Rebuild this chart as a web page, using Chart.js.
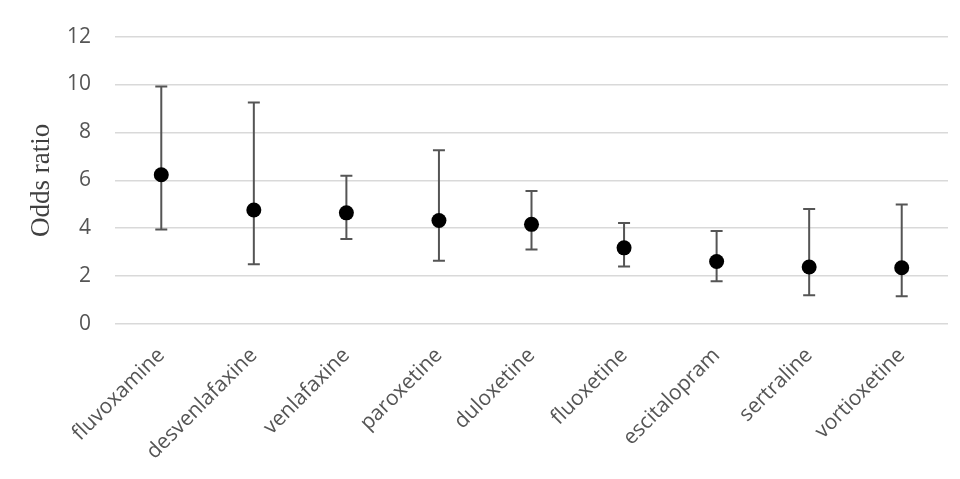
<!DOCTYPE html>
<html>
<head>
<meta charset="utf-8">
<script src="https://cdn.jsdelivr.net/npm/chart.js@4.4.1/dist/chart.umd.min.js"></script>
<style>
  html, body { margin: 0; padding: 0; background: #ffffff; }
  #wrap { width: 960px; height: 479px; }
</style>
</head>
<body>
<div id="wrap"><canvas id="c" width="960" height="479"></canvas></div>
<script>
const drugs = ['fluvoxamine', 'desvenlafaxine', 'venlafaxine', 'paroxetine', 'duloxetine', 'fluoxetine', 'escitalopram', 'sertraline', 'vortioxetine'];
const oddsRatio = [6.23, 4.76, 4.64, 4.32, 4.16, 3.18, 2.61, 2.38, 2.35];
const ciLower = [3.95, 2.50, 3.55, 2.64, 3.11, 2.40, 1.78, 1.20, 1.16];
const ciUpper = [9.92, 9.25, 6.19, 7.25, 5.55, 4.22, 3.88, 4.80, 4.99];
const yTicks = [0, 2, 4, 6, 8, 10, 12];

const errorBars = {
  id: 'errorBars',
  beforeDatasetsDraw(chart) {
    const ctx = chart.ctx;
    const meta = chart.getDatasetMeta(0);
    const y = chart.scales.y;
    ctx.save();
    ctx.strokeStyle = '#555555';
    ctx.lineWidth = 2;
    meta.data.forEach((pt, i) => {
      const x = pt.x;
      const yl = y.getPixelForValue(ciLower[i]);
      const yu = y.getPixelForValue(ciUpper[i]);
      ctx.beginPath();
      ctx.moveTo(x, yu); ctx.lineTo(x, yl);
      ctx.moveTo(x - 6, yu); ctx.lineTo(x + 6, yu);
      ctx.moveTo(x - 6, yl); ctx.lineTo(x + 6, yl);
      ctx.stroke();
    });
    ctx.restore();
  }
};

new Chart(document.getElementById('c'), {
  type: 'line',
  data: {
    labels: drugs,
    datasets: [{
      label: 'Odds ratio',
      data: oddsRatio,
      showLine: false,
      pointRadius: 7.5,
      pointHoverRadius: 7.5,
      pointBackgroundColor: '#000000',
      pointBorderColor: '#000000',
      pointBorderWidth: 0
    }]
  },
  options: {
    responsive: false,
    animation: false,
    devicePixelRatio: 1,
    layout: { padding: { left: 10, right: 12, top: 34, bottom: 0 } },
    plugins: { legend: { display: false }, tooltip: { enabled: false } },
    scales: {
      x: {
        offset: true,
        grid: { display: false, drawTicks: false },
        border: { display: false },
        ticks: {
          color: '#555555',
          font: { family: 'Open Sans', size: 21 },
          minRotation: 45,
          maxRotation: 45,
          padding: 19
        },
        afterFit(s) { s.height = 155; }
      },
      y: {
        min: 0,
        max: 12,
        afterBuildTicks(s) { s.ticks = yTicks.map(v => ({ value: v })); },
        grid: { color: '#d9d9d9', lineWidth: 1.5, drawTicks: false },
        border: { display: false },
        ticks: {
          color: '#555555',
          font: { family: 'Open Sans', size: 21 },
          padding: 24
        },
        title: {
          display: true,
          text: 'Odds ratio',
          color: '#404040',
          font: { family: 'Liberation Serif', size: 27 },
          padding: { top: 16, bottom: 0 }
        },
        afterFit(s) { s.width = 105; }
      }
    }
  },
  plugins: [errorBars]
});
</script>
</body>
</html>
